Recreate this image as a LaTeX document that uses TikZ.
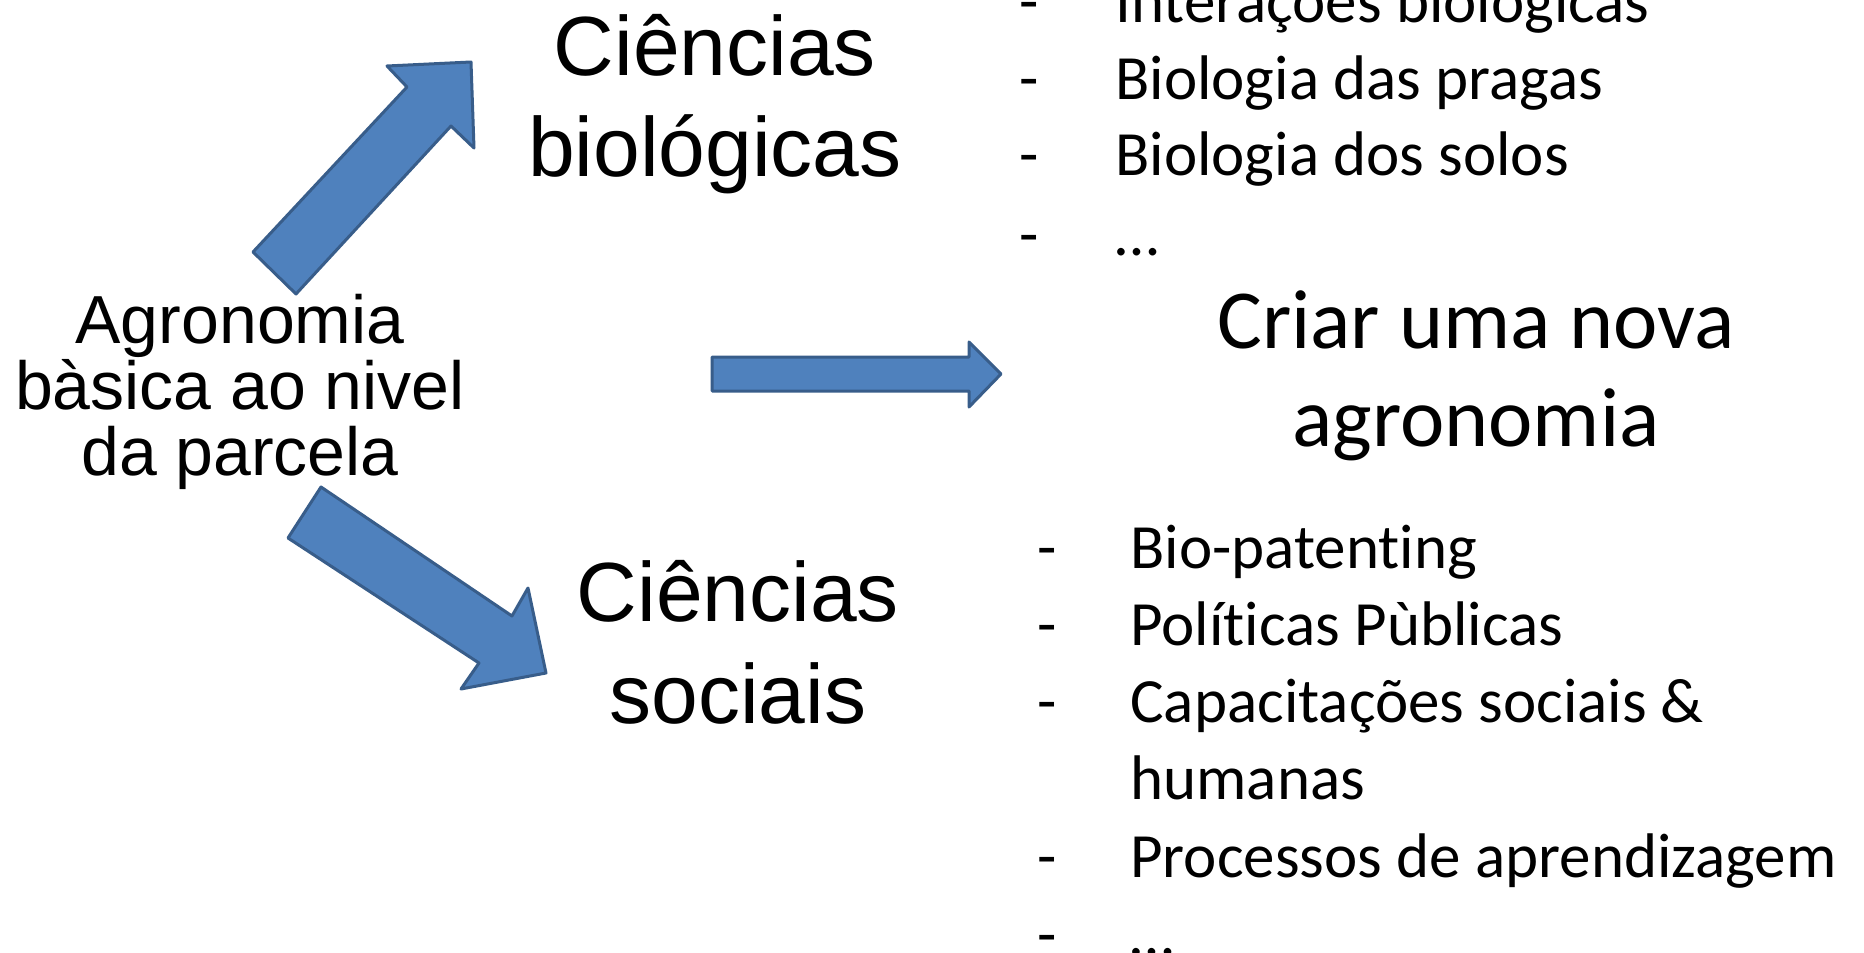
\documentclass[tikz,border=0pt]{standalone}
\usepackage{fontspec}
\setmainfont{Liberation Sans}
\newfontfamily\calfont[Ligatures=CommonOff]{Carlito}
\definecolor{arrowfill}{HTML}{4F81BD}
\definecolor{arrowline}{HTML}{385D8A}
\begin{document}
\begin{tikzpicture}[x=0.5pt,y=-0.5pt,
  blockarrow/.style={fill=arrowfill,draw=arrowline,line width=1.5pt,line join=round},
  bigtext/.style={font=\fontsize{42pt}{51pt}\selectfont,align=flush center,anchor=base,inner sep=0pt,text width=250pt},
  basetext/.style={font=\fontsize{34pt}{33pt}\selectfont,align=flush center,anchor=base,inner sep=0pt,text width=260pt},
  goaltext/.style={font=\calfont\fontsize{42pt}{49pt}\selectfont,align=flush center,anchor=base,inner sep=0pt,text width=300pt},
  listtext/.style={font=\calfont\fontsize{31.5pt}{38.5pt}\selectfont,anchor=base west,inner sep=0pt},
  listmulti/.style={listtext,align=flush left,text width=300pt}
]
\useasboundingbox (0,0) rectangle (1864,953);
\clip (0,0) rectangle (1864,953);

% labels
\node[basetext] (agro) at (240,343) {Agronomia\\bàsica ao nivel\\da parcela};
\node[bigtext] (bio) at (715,75) {Ciências\\biológicas};
\node[bigtext] (soc) at (738,621) {Ciências\\sociais};
\node[goaltext] (nova) at (1476,348) {Criar uma nova\\agronomia};

% block arrows
\draw[blockarrow] (253,252) -- (407,87) -- (387,66) -- (471,62) -- (474,148) -- (451,126) -- (296,294) -- cycle;
\draw[blockarrow] (321,487) -- (512,616) -- (528,588) -- (546,673) -- (461,689) -- (479,663) -- (288,538) -- cycle;
\draw[blockarrow] (712,357) -- (969,357) -- (969,342) -- (1001,374) -- (969,407) -- (969,391) -- (712,391) -- cycle;

% biological list
\node[listtext] (bd1) at (1019,23) {-};
\node[listtext] (bt1) at (1115,23) {Interações biológicas};
\node[listtext] (bd2) at (1019,99) {-};
\node[listtext] (bt2) at (1115,99) {Biologia das pragas};
\node[listtext] (bd3) at (1019,175) {-};
\node[listtext] (bt3) at (1115,175) {Biologia dos solos};
\node[listtext] (bd4) at (1019,255) {-};
\node[listtext] (bt4) at (1115,255) {…};

% social list
\node[listtext] (sd1) at (1037,568) {-};
\node[listtext] (st1) at (1130,568) {Bio-patenting};
\node[listtext] (sd2) at (1037,645) {-};
\node[listtext] (st2) at (1130,645) {Políticas Pùblicas};
\node[listtext] (sd3) at (1037,722) {-};
\node[listmulti] (st3) at (1130,722) {Capacitações sociais \&\\humanas};
\node[listtext] (sd4) at (1037,877) {-};
\node[listtext] (st4) at (1130,877) {Processos de aprendizagem};
\node[listtext] (sd5) at (1037,955) {-};
\node[listtext] (st5) at (1130,955) {…};
\end{tikzpicture}
\end{document}
